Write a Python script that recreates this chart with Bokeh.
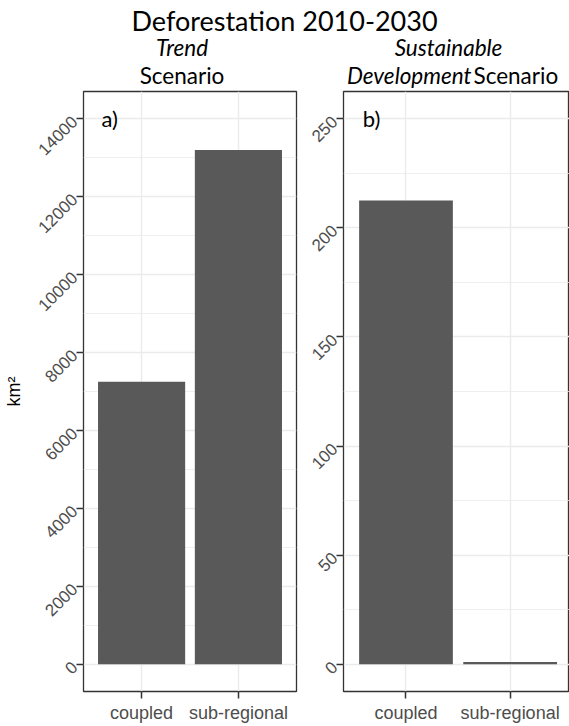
import math
from bokeh.plotting import figure
from bokeh.layouts import column, row
from bokeh.models import Range1d, FixedTicker, Label
from bokeh.embed import file_html
from bokeh.resources import INLINE
from bokeh.core.properties import value

# ---------------- data ----------------
categories = ["coupled", "sub-regional"]
trend_km2 = [7250, 13200]          # a) Trend Scenario
sd_km2 = [212.5, 1.0]              # b) Sustainable Development Scenario
trend_ticks = [0, 2000, 4000, 6000, 8000, 10000, 12000, 14000]
sd_ticks = [0, 50, 100, 150, 200, 250]
main_title = "Deforestation 2010-2030"
tags = ["a)", "b)"]
y_label = "km²"

TITLE_FONT = "Lato"
AXIS_FONT = "Liberation Sans"
GRID = "#EBEBEB"
DARK = "#333333"
TEXT_GREY = "#4D4D4D"
BAR = "#595959"

TOP_H = 89  # height of the title/strip band


def panel(vals, ticks, tag, frame_w, x_end, border_left, border_right, ylab=None):
    xs = [i + 1 for i in range(len(categories))]
    top = ticks[-1]
    pad = 0.05 * top
    p = figure(frame_width=frame_w, frame_height=600,
               x_range=Range1d(0.4, x_end), y_range=Range1d(-pad, top + pad),
               toolbar_location=None, output_backend="svg",
               min_border_left=border_left, min_border_right=border_right,
               min_border_top=2, min_border_bottom=0)
    p.background_fill_color = "white"
    p.border_fill_color = "white"
    p.outline_line_color = DARK
    p.outline_line_width = 1.3

    mids = [(a + b) / 2 for a, b in zip(ticks[:-1], ticks[1:])]
    p.ygrid.ticker = FixedTicker(ticks=ticks, minor_ticks=mids)
    p.ygrid.grid_line_color = GRID
    p.ygrid.grid_line_width = 1.4
    p.ygrid.minor_grid_line_color = GRID
    p.ygrid.minor_grid_line_width = 0.8
    p.xgrid.ticker = FixedTicker(ticks=xs)
    p.xgrid.grid_line_color = GRID
    p.xgrid.grid_line_width = 1.4

    p.vbar(x=xs, top=vals, bottom=0, width=0.9, fill_color=BAR, line_color=None)

    p.yaxis.ticker = FixedTicker(ticks=ticks)
    p.yaxis.major_label_orientation = math.pi / 4
    p.xaxis.ticker = FixedTicker(ticks=xs)
    p.xaxis.major_label_overrides = {x: c for x, c in zip(xs, categories)}
    for ax in (p.xaxis, p.yaxis):
        ax.axis_line_color = None
        ax.major_tick_out = 7
        ax.major_tick_in = 0
        ax.major_tick_line_color = DARK
        ax.major_tick_line_width = 1.5
        ax.minor_tick_line_color = None
        ax.major_label_text_font = AXIS_FONT
        ax.major_label_text_color = TEXT_GREY
    p.xaxis.major_label_text_font_size = "18px"
    p.xaxis.major_label_standoff = 4
    p.yaxis.major_label_text_font_size = "17px"
    p.yaxis.major_label_standoff = 2
    if ylab:
        p.yaxis.axis_label = ylab
        p.yaxis.axis_label_text_font = AXIS_FONT
        p.yaxis.axis_label_text_font_style = "normal"
        p.yaxis.axis_label_text_font_size = "18px"
        p.yaxis.axis_label_text_color = "black"
        p.yaxis.axis_label_standoff = 6

    p.add_layout(Label(x=0.67, y=top, text=tag, text_font=TITLE_FONT,
                       text_font_size="22px", text_align="center",
                       text_baseline="middle", text_color="black"))
    return p


left = panel(trend_km2, trend_ticks, tags[0], 213, 2.6, 75, 5, ylab=y_label)
right = panel(sd_km2, sd_ticks, tags[1], 226, 2.57, 42, 0)

# ---------------- title + facet strips ----------------
t = figure(width=561, height=TOP_H, x_range=Range1d(8, 569), y_range=Range1d(8 + TOP_H, 8),
           toolbar_location=None, output_backend="svg",
           x_axis_type=None, y_axis_type=None, min_border=0)
t.grid.visible = False
t.outline_line_color = None
t.background_fill_color = "white"
t.border_fill_color = "white"

font = value(TITLE_FONT)
strip_size = "22.5px"
t.text(x=[292], y=[27.5], text=[main_title], text_font=font, text_font_size="27px",
       text_align="center", text_baseline="alphabetic", text_color="black")
t.text(x=[189.5], y=[55], text=["Trend"], text_font=font, text_font_size=strip_size,
       text_font_style="italic", text_align="center", text_baseline="alphabetic",
       text_color="black")
t.text(x=[189.5], y=[82.5], text=["Scenario"], text_font=font, text_font_size=strip_size,
       text_align="center", text_baseline="alphabetic", text_color="black")
t.text(x=[456], y=[55], text=["Sustainable"], text_font=font, text_font_size=strip_size,
       text_font_style="italic", text_align="center", text_baseline="alphabetic",
       text_color="black")
t.text(x=[479], y=[82.5], text=["Development"], text_font=font, text_font_size=strip_size,
       text_font_style="italic", text_align="right", text_baseline="alphabetic",
       text_color="black")
t.text(x=[481], y=[82.5], text=["Scenario"], text_font=font, text_font_size=strip_size,
       text_align="left", text_baseline="alphabetic", text_color="black")

layout = column(t, row(left, right, spacing=0), spacing=0)

open("out.html", "w").write(file_html(layout, INLINE))
